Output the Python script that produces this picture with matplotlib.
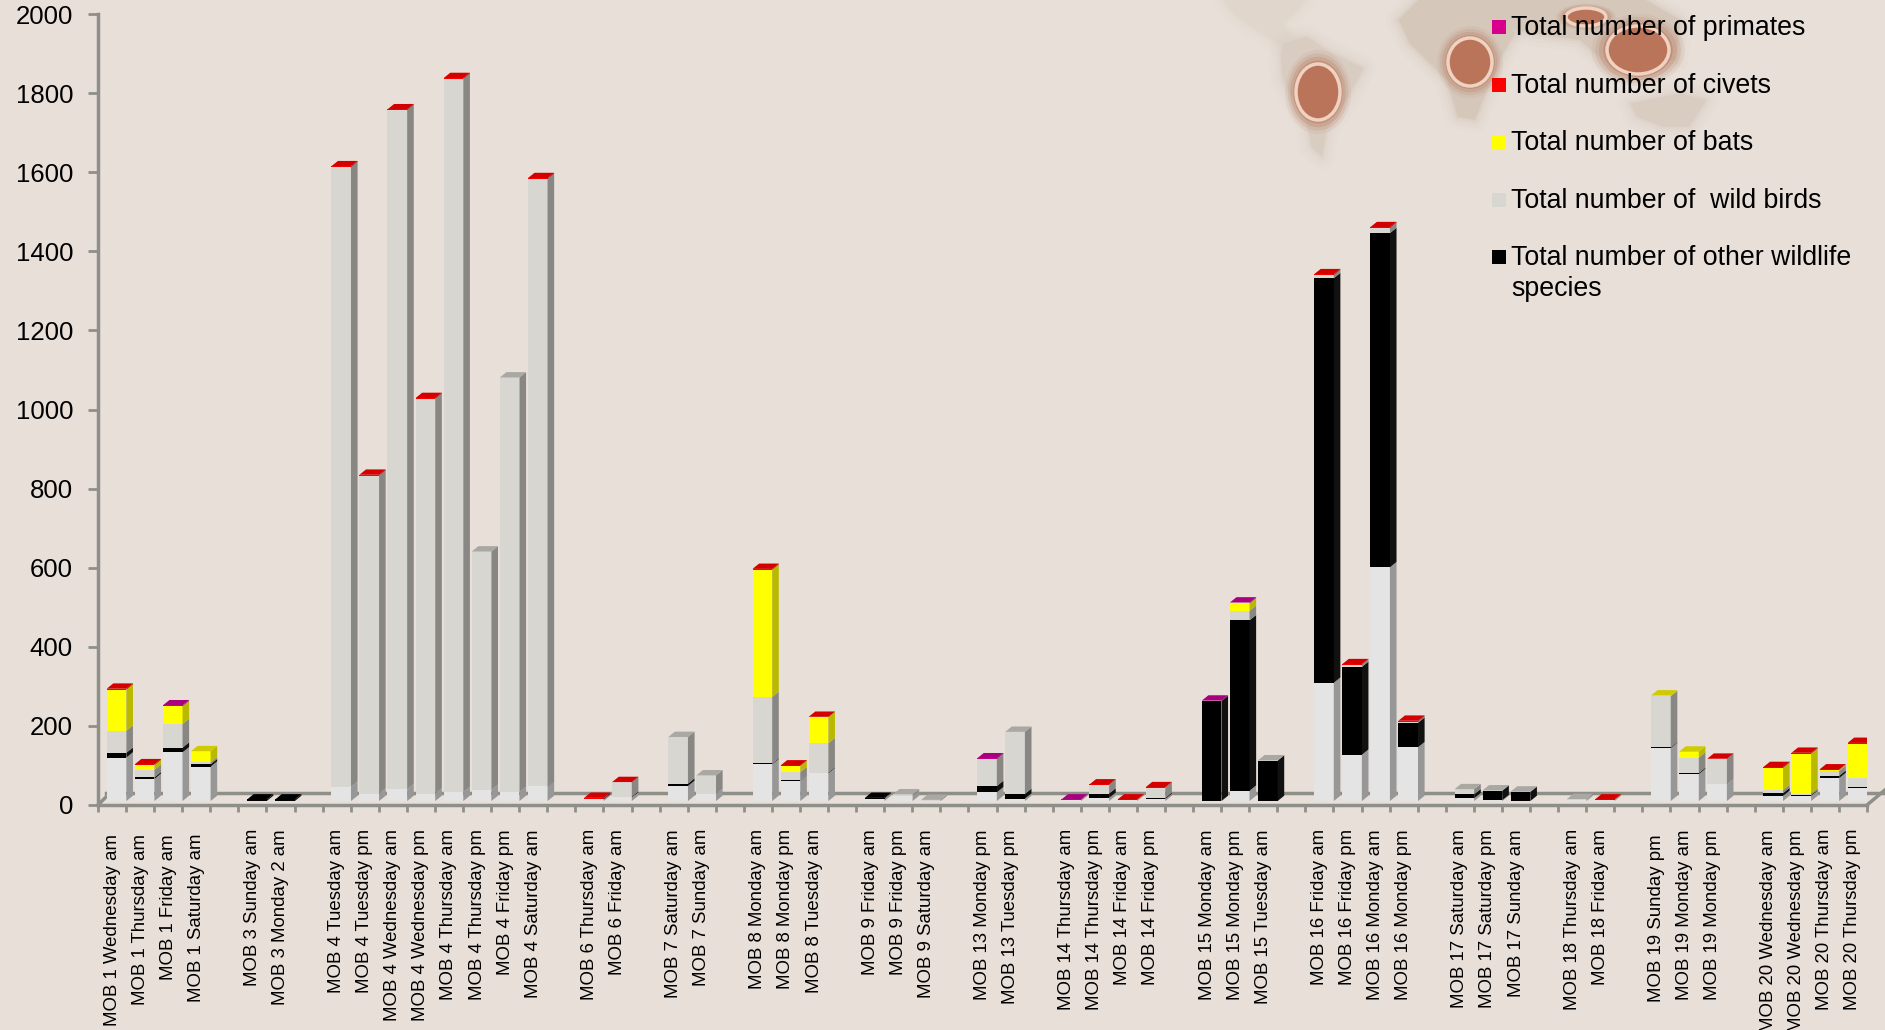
import matplotlib
matplotlib.use('Agg')
import matplotlib.pyplot as plt
from matplotlib.patches import Polygon, Ellipse, Rectangle

plt.rcParams['font.family'] = ['Liberation Sans', 'DejaVu Sans']

# slots on the x axis, empty string = gap between MOBs
labels = [
    'MOB 1 Wednesday am', 'MOB 1 Thursday am', 'MOB 1 Friday am', 'MOB 1 Saturday am', '',
    'MOB 3 Sunday am', 'MOB 3 Monday 2 am', '',
    'MOB 4 Tuesday am', 'MOB 4 Tuesday pm', 'MOB 4 Wednesday am', 'MOB 4 Wednesday pm',
    'MOB 4 Thursday am', 'MOB 4 Thursday pm', 'MOB 4 Friday pm', 'MOB 4 Saturday am', '',
    'MOB 6 Thursday am', 'MOB 6 Friday am', '',
    'MOB 7 Saturday am', 'MOB 7 Sunday am', '',
    'MOB 8 Monday am', 'MOB 8 Monday pm', 'MOB 8 Tuesday am', '',
    'MOB 9 Friday am', 'MOB 9 Friday pm', 'MOB 9 Saturday am', '',
    'MOB 13 Monday pm', 'MOB 13 Tuesday pm', '',
    'MOB 14 Thursday am', 'MOB 14 Thursday pm', 'MOB 14 Friday am', 'MOB 14 Friday pm', '',
    'MOB 15 Monday am', 'MOB 15 Monday pm', 'MOB 15 Tuesday am', '',
    'MOB 16 Friday am', 'MOB 16 Friday pm', 'MOB 16 Monday am', 'MOB 16 Monday pm', '',
    'MOB 17 Saturday am', 'MOB 17 Saturday pm', 'MOB 17 Sunday am', '',
    'MOB 18 Thursday am', 'MOB 18 Friday am', '',
    'MOB 19 Sunday pm', 'MOB 19 Monday am', 'MOB 19 Monday pm', '',
    'MOB 20 Wednesday am', 'MOB 20 Wednesday pm', 'MOB 20 Thursday am', 'MOB 20 Thursday pm',
]

# values per slot, bottom of the stack first
unnamed = [110, 56, 123, 87, 0, 0, 0, 0, 36, 19, 30, 19, 23, 28, 23, 37, 0, 4, 9, 0, 38, 18, 0, 93, 51, 70, 0,
           6, 12, 0, 0, 22, 6, 0, 3, 8, 2, 5, 0, 0, 26, 0, 0, 299, 117, 591, 136, 0, 7, 2, 0, 0, 2, 2, 0,
           134, 68, 42, 0, 13, 13, 58, 32]
other = [12, 4, 12, 6, 0, 4, 4, 0, 0, 0, 0, 0, 0, 0, 0, 1, 0, 2, 2, 0, 6, 0, 0, 2, 1, 2, 0,
         2, 0, 0, 0, 16, 12, 0, 0, 11, 0, 3, 0, 253, 431, 102, 0, 1023, 222, 845, 62, 0, 10, 24, 23, 0, 0, 0, 0,
         2, 3, 0, 0, 7, 2, 6, 4]
birds = [56, 19, 60, 5, 0, 0, 0, 0, 1567, 804, 1717, 998, 1803, 603, 1048, 1535, 0, 0, 36, 0, 118, 47, 0, 168, 21, 74, 0,
         0, 5, 3, 0, 68, 157, 0, 0, 22, 1, 26, 0, 0, 24, 1, 0, 8, 6, 13, 3, 0, 13, 1, 1, 0, 3, 1, 0,
         129, 39, 64, 0, 8, 4, 12, 22]
bats = [104, 12, 45, 28, 0, 0, 0, 0, 0, 0, 0, 0, 0, 0, 0, 0, 0, 0, 0, 0, 0, 0, 0, 322, 16, 66, 0,
        0, 0, 0, 0, 0, 0, 0, 0, 0, 0, 0, 0, 0, 19, 0, 0, 0, 0, 0, 0, 0, 0, 0, 0, 0, 0, 0, 0,
        2, 15, 0, 0, 56, 101, 3, 87]
civets = [2, 2, 0, 0, 0, 0, 0, 0, 2, 2, 2, 2, 2, 0, 0, 2, 0, 2, 1, 0, 0, 0, 0, 2, 1, 1, 0,
          0, 0, 0, 0, 0, 0, 0, 0, 1, 1, 1, 0, 0, 0, 0, 0, 2, 1, 2, 2, 0, 0, 0, 0, 0, 0, 1, 0,
          0, 0, 1, 0, 2, 2, 1, 2]
primates = [0, 0, 2, 0, 0, 0, 0, 0, 0, 0, 0, 0, 0, 0, 0, 0, 0, 0, 0, 0, 0, 0, 0, 0, 0, 0, 0,
            0, 0, 0, 0, 2, 0, 0, 1, 0, 0, 0, 0, 1, 2, 0, 0, 0, 0, 0, 0, 0, 0, 0, 0, 0, 0, 0, 0,
            0, 0, 0, 0, 0, 0, 0, 0]

series = [unnamed, other, birds, bats, civets, primates]
front_cols = ['#e4e4e4', '#000000', '#d8d6d1', '#ffff00', '#ff0000', '#d6008c']
side_cols = ['#979797', '#111111', '#888783', '#b9b900', '#8c0000', '#800060']
top_cols = ['#c4c4c4', '#000000', '#aaa8a3', '#cfcb00', '#d40000', '#a8007f']

legend_names = ['Total number of primates', 'Total number of civets', 'Total number of bats',
                'Total number of  wild birds', 'Total number of other wildlife\nspecies']
legend_cols = ['#d6008c', '#ff0000', '#ffff00', '#d8d6d1', '#000000']

BG = '#e8dfd9'
AXC = '#8f8f8a'
W, H = 1885, 1030

fig = plt.figure(figsize=(W / 100, H / 100), dpi=100, facecolor=BG)

# background layer in pixel coordinates, holds the map and the legend
bg = fig.add_axes([0, 0, 1, 1])
bg.set_xlim(0, W)
bg.set_ylim(H, 0)
bg.axis('off')


def map_poly(pts, col='#d5c8bb'):
    xy = [(1200 + x / 2.29, y / 3) for x, y in pts]
    for lw, a in [(18, 0.08), (12, 0.12), (7, 0.18), (3, 0.3)]:
        bg.add_patch(Polygon(xy, closed=True, fc='none', ec=col, lw=lw, alpha=a, joinstyle='round'))
    bg.add_patch(Polygon(xy, closed=True, fc=col, ec='none'))


map_poly([(55, 0), (240, 0), (215, 40), (190, 70), (210, 110), (180, 130), (130, 90), (85, 50)], '#e0d6cc')
map_poly([(190, 130), (245, 110), (290, 150), (375, 205), (340, 290), (290, 390), (280, 470),
          (255, 440), (245, 370), (190, 240), (185, 170)], '#d9cdc1')
map_poly([(455, 60), (500, 0), (660, 0), (720, 100), (690, 170), (660, 260), (630, 360),
          (590, 350), (565, 240), (480, 130)])
map_poly([(660, 0), (1020, 0), (1100, 60), (1090, 180), (1010, 170), (950, 210), (870, 120),
          (760, 100), (700, 80)])
map_poly([(985, 310), (1100, 280), (1160, 300), (1120, 380), (1060, 380), (1000, 350)], '#d9cdc1')


def hot_spot(cx, cy, rx, ry):
    for k, a in [(1.5, 0.12), (1.38, 0.2), (1.26, 0.35)]:
        bg.add_patch(Ellipse((cx, cy), 2 * rx * k, 2 * ry * k, fc='#bd8a72', ec='none', alpha=a))
    bg.add_patch(Ellipse((cx, cy), 2 * rx * 1.12, 2 * ry * 1.12, fc='#c29078', ec='none'))
    bg.add_patch(Ellipse((cx, cy), 2 * rx, 2 * ry, fc='#b9745a', ec='#efd2c2', lw=2.5))


hot_spot(1318, 92, 22, 28)
hot_spot(1470, 62, 22, 24)
hot_spot(1638, 50, 31, 24)
hot_spot(1586, 17, 20, 9)

# legend
legend_y = [27, 85, 142, 200, 257]
for name, col, y in zip(legend_names, legend_cols, legend_y):
    bg.add_patch(Rectangle((1492, y - 7), 14, 14, fc=col, ec='none'))
    bg.text(1511, y - 12, name, fontsize=19.3, va='top', ha='left', linespacing=1.25, color='black')

# main chart, x unit = one slot
ax = fig.add_axes([98 / W, (H - 805) / H, (1867 - 98) / W, (805 - 14) / H])
ax.patch.set_alpha(0)
ax.set_xlim(0, len(labels))
ax.set_ylim(0, 2000)

BASE = 10        # front of the bars stands a little above the axis line
BAR_W = 0.7
DX = 0.235       # fake 3d depth
DY = 13.5

ax.plot([0, 0.28], [0, 20], color=AXC, lw=2.5, clip_on=False, zorder=1)
ax.plot([0.28, 63.64], [30, 30], color=AXC, lw=2.5, clip_on=False, zorder=1)
ax.plot([63, 63.64], [0, 38], color=AXC, lw=2.5, clip_on=False, zorder=1)

for i in range(len(labels)):
    left = i + 0.31
    right = left + BAR_W
    bottom = BASE
    top_col = None
    for vals, fc, sc, tc in zip(series, front_cols, side_cols, top_cols):
        v = vals[i]
        if v <= 0:
            continue
        ax.bar(left, v, BAR_W, bottom=bottom, align='edge', color=fc, lw=0, zorder=3 + i * 0.01)
        ax.add_patch(Polygon([(right, bottom), (right + DX, bottom + DY), (right + DX, bottom + v + DY),
                              (right, bottom + v)], closed=True, fc=sc, ec='none', zorder=3 + i * 0.01))
        bottom += v
        top_col = tc
    if top_col:
        ax.add_patch(Polygon([(left, bottom), (right, bottom), (right + DX, bottom + DY), (left + DX, bottom + DY)],
                             closed=True, fc=top_col, ec='none', zorder=3 + i * 0.01))

for s in ['top', 'right']:
    ax.spines[s].set_visible(False)
for s in ['left', 'bottom']:
    ax.spines[s].set_color(AXC)
    ax.spines[s].set_linewidth(2.5)
    ax.spines[s].set_zorder(2)

ax.set_yticks(range(0, 2001, 200))
ax.tick_params(axis='y', length=7, width=2, color=AXC, labelsize=18.5, pad=11)
ax.set_xticks(range(len(labels) + 1))
ax.set_xticklabels([])
ax.tick_params(axis='x', length=5, width=2, color=AXC)

# category labels hang from a common top edge
for i, name in enumerate(labels):
    if name:
        y_top = 834 if name.startswith('MOB 1 ') or name == 'MOB 19 Sunday pm' else 829
        bg.text(98 + (i + 0.5) * (1867 - 98) / len(labels), y_top, name, rotation=90, fontsize=13.4,
                ha='center', va='top', color='black', clip_on=False)

fig.savefig('out.png', dpi=100, facecolor=BG)
